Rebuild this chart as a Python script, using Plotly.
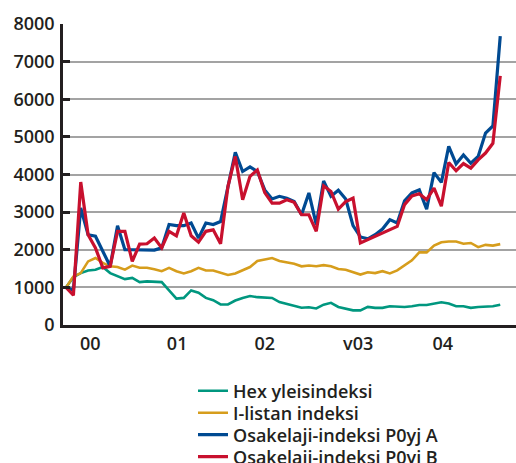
import plotly.graph_objects as go

# Monthly index values (base = 1000)
months = list(range(60))

hex_yleis = [1000, 1270, 1380, 1450, 1470, 1540, 1380, 1310, 1220, 1250,
             1140, 1160, 1150, 1140, 920, 700, 720, 920, 860, 720,
             660, 545, 545, 650, 720, 770, 740, 720, 720, 610,
             560, 520, 460, 470, 440, 540, 590, 480, 430, 390,
             390, 480, 455, 455, 500, 480, 480, 500, 530, 530,
             570, 605, 570, 500, 500, 455, 480, 480, 500, 540]

i_listan = [1000, 1290, 1380, 1690, 1780, 1650, 1560, 1540, 1470, 1580,
            1520, 1520, 1480, 1430, 1520, 1430, 1370, 1430, 1520, 1450,
            1450, 1380, 1330, 1370, 1460, 1540, 1700, 1750, 1780, 1700,
            1670, 1630, 1560, 1580, 1560, 1590, 1560, 1490, 1470, 1400,
            1340, 1400, 1380, 1430, 1370, 1450, 1590, 1720, 1930, 1930,
            2110, 2200, 2220, 2220, 2160, 2180, 2070, 2130, 2110, 2150]

poyj_a = [1000, 930, 3110, 2400, 2360, 1960, 1560, 2640, 2000, 2000,
          2000, 2000, 1990, 2050, 2670, 2640, 2640, 2710, 2310, 2710,
          2670, 2750, 3680, 4590, 4080, 4200, 4080, 3590, 3350, 3420,
          3370, 3280, 2930, 3510, 2670, 3830, 3420, 3580, 3350, 2640,
          2340, 2290, 2400, 2550, 2800, 2710, 3300, 3510, 3590, 3080,
          4050, 3790, 4750, 4280, 4520, 4300, 4480, 5100, 5290, 7680]

poyj_b = [1000, 790, 3800, 2400, 2050, 1520, 1560, 2490, 2490, 1690,
          2150, 2160, 2310, 2050, 2490, 2370, 2975, 2370, 2200, 2490,
          2530, 2160, 3680, 4480, 3330, 3950, 4120, 3520, 3240, 3240,
          3330, 3260, 2930, 2930, 2490, 3700, 3550, 3080, 3280, 3370,
          2180, 2270, 2370, 2460, 2530, 2620, 3200, 3430, 3490, 3330,
          3640, 3160, 4320, 4100, 4290, 4170, 4390, 4570, 4830, 6620]

year_labels = ["00", "01", "02", "v03", "04"]
year_label_month = [3.3, 15.1, 27.0, 39.7, 51.2]

series_names = ["Hex yleisindeksi", "I-listan indeksi",
                "Osakelaji-indeksi P0yj A", "Osakelaji-indeksi P0yj B"]
series_colors = ["#00977f", "#d69d1c", "#004a92", "#c8102e"]
series_widths = [2.6, 2.6, 3.2, 3.2]

TEXT = "#231f20"
FONT = "Open Sans"
W, H = 516, 463

legend_ids = ["legend", "legend2", "legend3", "legend4"]
legend_row_px = [391.0, 413.0, 435.0, 457.0]   # vertical centres of legend rows

fig = go.Figure()
for name, vals, col, w, lid in zip(series_names, [hex_yleis, i_listan, poyj_a, poyj_b],
                                   series_colors, series_widths, legend_ids):
    fig.add_trace(go.Scatter(x=months, y=vals, mode="lines", name=name, legend=lid,
                             line=dict(color=col, width=w)))

legend_layout = {}
for lid, ypx in zip(legend_ids, legend_row_px):
    legend_layout[lid] = dict(
        xref="container", yref="container",
        x=193 / W, xanchor="left", y=1 - ypx / H, yanchor="middle",
        font=dict(family=FONT, size=18, color=TEXT, weight=600),
        itemwidth=30, bgcolor="rgba(0,0,0,0)", borderwidth=0,
    )

fig.update_layout(
    width=W, height=H,
    margin=dict(l=63, r=0, t=24, b=137.5, autoexpand=False),
    paper_bgcolor="white", plot_bgcolor="white",
    font=dict(family=FONT, size=18, color=TEXT, weight=600),
    showlegend=True,
    **legend_layout,
)

fig.update_xaxes(range=[-0.41, 61.14], tickvals=year_label_month, ticktext=year_labels,
                 showgrid=False, zeroline=False, showline=True, linecolor=TEXT,
                 linewidth=3, ticks="", tickfont=dict(size=18), automargin=False)
fig.update_yaxes(range=[0, 8000], tickvals=[0, 1000, 2000, 3000, 4000, 5000, 6000, 7000, 8000],
                 showgrid=True, gridcolor="#a3a3a3", gridwidth=1.5, zeroline=False,
                 showline=True, linecolor=TEXT, linewidth=2.5,
                 ticks="inside", ticklen=7, tickwidth=2.5, tickcolor=TEXT,
                 ticklabelstandoff=2, tickfont=dict(size=18), automargin=False)

fig.write_html("out.html", config={"displayModeBar": False},
               post_script="document.body.style.margin='0';")
